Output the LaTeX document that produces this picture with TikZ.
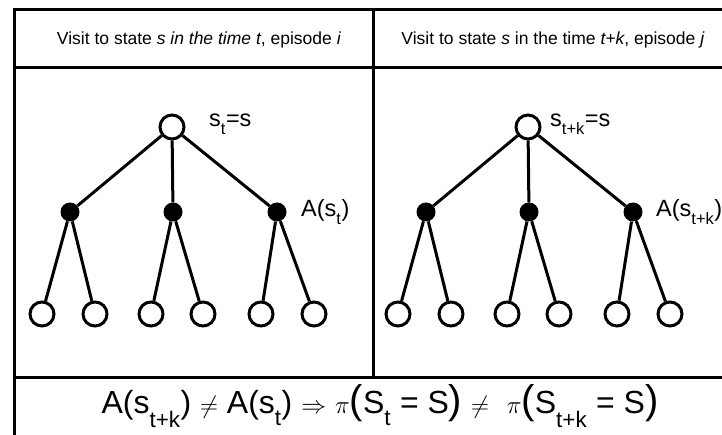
\documentclass[tikz,border=0pt]{standalone}
\usepackage{fontspec}
\setmainfont{Liberation Sans}
\usetikzlibrary{positioning}
\newcommand{\lsub}[1]{\raisebox{-0.35ex}{\textsubscript{#1}}}
\newcommand{\bigparen}[1]{{\fontsize{40}{40}\selectfont #1}}

\begin{document}
\begin{tikzpicture}[x=1pt, y=-1pt,
  state/.style={circle, draw, line width=3pt, fill=white,
                minimum size=24pt, inner sep=0pt},
  action/.style={circle, fill=black, minimum size=19pt, inner sep=0pt},
  frame/.style={line width=3pt},
  edge/.style={line width=3pt},
  lbl/.style={font=\fontsize{23.5}{25}\selectfont, inner sep=0pt, anchor=west},
  head/.style={font=\fontsize{17.5}{19}\selectfont, inner sep=0pt}
]
  \useasboundingbox (0,0) rectangle (722,435);
  \clip (0,0) rectangle (722,435);

  % frame of the table
  \draw[frame] (760,10) -- (14,10) -- (14,450);
  \draw[frame] (14,68) -- (760,68);
  \draw[frame] (14,377) -- (760,377);
  \draw[frame] (373,10) -- (373,377);

  \node[head] (headL) at (199,40) {Visit to state \textit{s in the time t}, episode \textit{i}};
  \node[head] (headR) at (553,40) {Visit to state \textit{s} in the time \textit{t+k}, episode \textit{j}};

  % episode i
  \node[state]  (rootL) at (172,127) {};
  \node[action] (a1L)   at (70,212)  {};
  \node[action] (a2L)   at (173,212) {};
  \node[action] (a3L)   at (277,212) {};
  \node[lbl] (sL) at (209,124) {s\lsub{t}=s};
  \node[lbl] (AL) at (301,212) {A(s\lsub{t})};
  \foreach \a in {1,2,3}
    \draw[edge] (rootL) -- (a\a L);
  \foreach \x/\a [count=\i] in {42/1,95/1,151/2,203/2,261/3,314/3} {
    \node[state] (l\i L) at (\x,314) {};
    \draw[edge] (a\a L) -- (l\i L);
  }

  % episode j
  \node[state]  (rootR) at (528,127) {};
  \node[action] (a1R)   at (426,212) {};
  \node[action] (a2R)   at (529,212) {};
  \node[action] (a3R)   at (633,212) {};
  \node[lbl] (sR) at (550,124) {s\lsub{t+k}=s};
  \node[lbl] (AR) at (656,212) {A(s\lsub{t+k})};
  \foreach \a in {1,2,3}
    \draw[edge] (rootR) -- (a\a R);
  \foreach \x/\a [count=\i] in {398/1,451/1,507/2,559/2,617/3,670/3} {
    \node[state] (l\i R) at (\x,314) {};
    \draw[edge] (a\a R) -- (l\i R);
  }

  % consequence
  \node[font=\fontsize{32}{34}\selectfont, inner sep=0pt] (eq) at (380,406)
    {A(s\lsub{t+k}) $\neq$ A(s\lsub{t}) $\Rightarrow$
     $\pi$\bigparen{(}S\lsub{t} = S\bigparen{)}
     $\neq$\ \ $\pi$\bigparen{(}S\lsub{t+k} = S\bigparen{)}};
\end{tikzpicture}
\end{document}
